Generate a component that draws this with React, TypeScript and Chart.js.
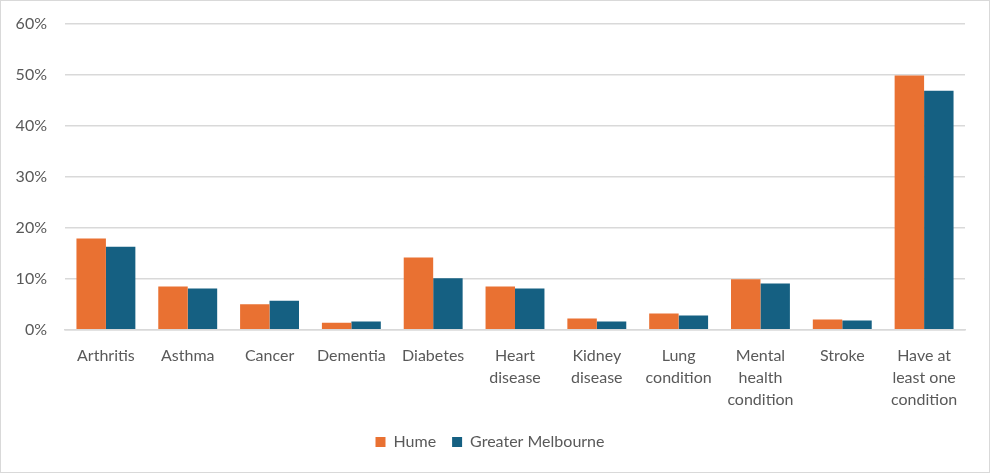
import React, { useEffect, useRef } from "react";
import { Chart, registerables } from "chart.js";

Chart.register(...registerables);

const categories: string[][] = [
  ["Arthritis"],
  ["Asthma"],
  ["Cancer"],
  ["Dementia"],
  ["Diabetes"],
  ["Heart", "disease"],
  ["Kidney", "disease"],
  ["Lung", "condition"],
  ["Mental", "health", "condition"],
  ["Stroke"],
  ["Have at", "least one", "condition"],
];

const humeValues = [17.9, 8.5, 5.0, 1.4, 14.2, 8.5, 2.2, 3.2, 9.9, 2.0, 49.9];
const melbourneValues = [16.3, 8.1, 5.7, 1.6, 10.1, 8.1, 1.6, 2.8, 9.1, 1.8, 46.9];

const seriesNames = ["Hume", "Greater Melbourne"];
const yTicks = [0, 10, 20, 30, 40, 50, 60];

const FONT = "Lato, 'Open Sans', sans-serif";
const TEXT = "#595959";
const GRID = "#d9d9d9";

export default function App() {
  const ref = useRef<HTMLCanvasElement | null>(null);

  useEffect(() => {
    document.body.style.margin = "0";
    if (!ref.current) return;
    const chart = new Chart(ref.current, {
      type: "bar",
      data: {
        labels: categories,
        datasets: [
          {
            label: seriesNames[0],
            data: humeValues,
            backgroundColor: "#E97132",
            categoryPercentage: 0.72,
            barPercentage: 1,
          },
          {
            label: seriesNames[1],
            data: melbourneValues,
            backgroundColor: "#156082",
            categoryPercentage: 0.72,
            barPercentage: 1,
          },
        ],
      },
      options: {
        animation: false,
        responsive: false,
        maintainAspectRatio: false,
        layout: { padding: { top: 23, left: 14, right: 24, bottom: 12 } },
        plugins: {
          tooltip: { enabled: false },
          legend: {
            position: "bottom",
            labels: {
              boxWidth: 10,
              boxHeight: 10,
              padding: 16,
              color: TEXT,
              font: { family: FONT, size: 16 },
            },
          },
        },
        scales: {
          x: {
            grid: { display: false },
            border: { display: true, color: GRID, width: 1.5 },
            ticks: {
              color: TEXT,
              font: { family: FONT, size: 16, lineHeight: 1.38 },
              padding: 7,
              maxRotation: 0,
              autoSkip: false,
            },
          },
          y: {
            min: 0,
            max: 60,
            afterBuildTicks: (axis: any) => {
              axis.ticks = yTicks.map((v) => ({ value: v }));
            },
            afterFit: (axis: any) => {
              axis.width = 50;
              axis.paddingTop = 0;
              axis.paddingBottom = 0;
            },
            grid: { color: GRID, lineWidth: 1.5, drawTicks: false },
            border: { display: false },
            ticks: {
              color: TEXT,
              font: { family: FONT, size: 16 },
              padding: 18,
              callback: (v: any) => `${v}%`,
            },
          },
        },
      },
    });
    return () => chart.destroy();
  }, []);

  return (
    <div
      style={{
        position: "absolute",
        left: 0,
        top: 0,
        width: 990,
        height: 473,
        boxSizing: "border-box",
        border: `1px solid ${GRID}`,
        background: "#fff",
      }}
    >
      <canvas ref={ref} width={988} height={471} style={{ display: "block" }} />
    </div>
  );
}
